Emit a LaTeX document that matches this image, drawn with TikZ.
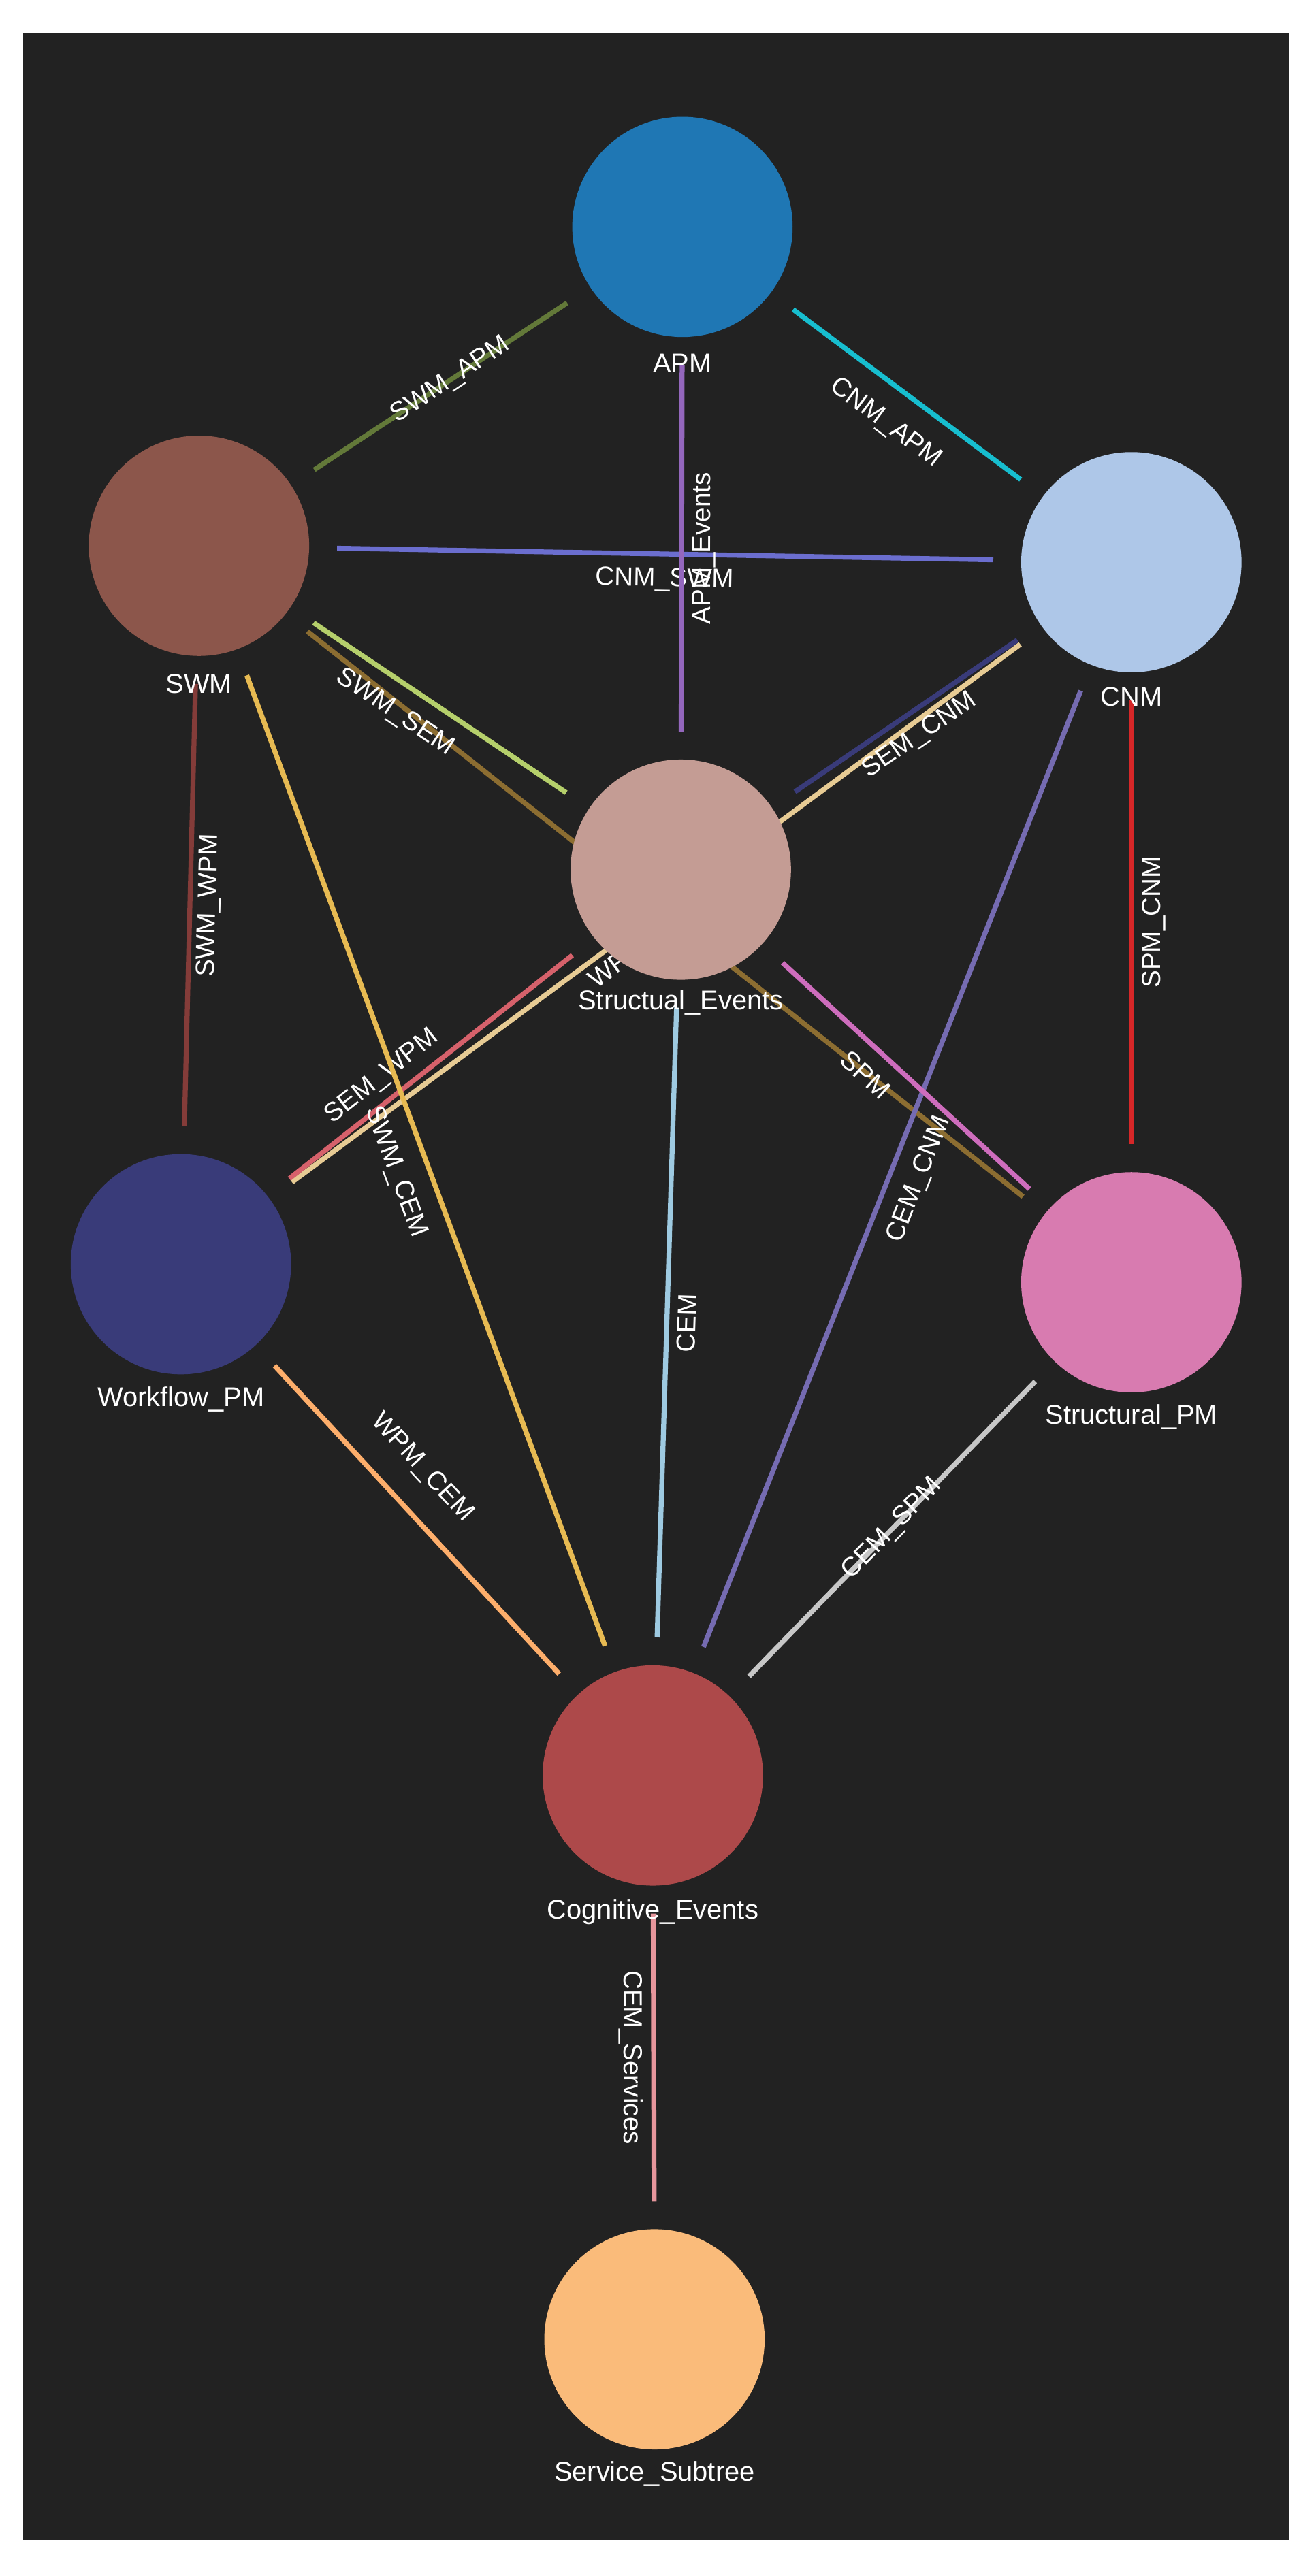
\documentclass[tikz,border=0pt]{standalone}
\usepackage{fontspec}
\setmainfont{Liberation Sans}
\begin{document}
\begin{tikzpicture}[x=1pt,y=-1pt,
  nd/.style={circle,minimum size=134pt,inner sep=0pt},
  nl/.style={text=white,font=\fontsize{16.5}{18}\selectfont},
  ed/.style={line width=3pt,shorten >=84pt,shorten <=84pt},
  el/.style={midway,sloped,allow upside down,text=white,font=\fontsize{16}{18}\selectfont,inner sep=1pt}]
\definecolor{bg}{HTML}{222222}
\useasboundingbox (0,0) rectangle (800,1567);
\fill[white] (0,0) rectangle (800,1567);
\fill[bg] (14,20) rectangle (784,1545);
% centers
\coordinate (APM) at (415,138);
\coordinate (SWM) at (121,332);
\coordinate (CNM) at (688,342);
\coordinate (SE) at (414,529);
\coordinate (WPM) at (110,769);
\coordinate (SPM) at (688,780);
\coordinate (CE) at (397,1080);
\coordinate (SS) at (398,1423);
% edges
\draw[ed,color={rgb,255:red,99;green,121;blue,57}] (SWM) -- node[el,pos=0.52]{SWM\_APM} (APM);
\draw[ed,color={rgb,255:red,23;green,190;blue,207}] (APM) -- node[el,below=12pt]{CNM\_APM} (CNM);
\draw[ed,color={rgb,255:red,107;green,110;blue,207}] (SWM) -- node[el,below=6pt]{CNM\_SWM} (CNM);
\draw[ed,color={rgb,255:red,148;green,103;blue,189}] (SE) -- node[el,below=4pt]{APM\_Events} (APM);
\draw[ed,color={rgb,255:red,140;green,109;blue,49}] (SWM) -- node[el]{SWM\_SPM} (SPM);
\draw[ed,color={rgb,255:red,181;green,207;blue,107}] (SWM) -- node[el,below=8pt,pos=0.44]{SWM\_SEM} (SE);
\draw[ed,color={rgb,255:red,57;green,59;blue,121}] (SE) -- (CNM);
\draw[ed,color={rgb,255:red,231;green,203;blue,148}] (WPM) -- node[el,below=2pt,pos=0.48]{WPM\_CNM} (CNM);
\path (SE) -- node[el,below=6pt]{SEM\_CNM} (CNM);
\draw[ed,color={rgb,255:red,214;green,97;blue,107}] (WPM) -- node[el,above=4pt,pos=0.43]{SEM\_WPM} (SE);
\draw[ed,color={rgb,255:red,132;green,60;blue,57}] (WPM) -- node[el,below=2pt]{SWM\_WPM} (SWM);
\draw[ed,color={rgb,255:red,231;green,186;blue,82}] (SWM) -- node[el,below=10pt,pos=0.5]{SWM\_CEM} (CE);
\draw[ed,color={rgb,255:red,158;green,202;blue,225}] (CE) -- node[el,below=4pt]{CEM} (SE);
\draw[ed,color={rgb,255:red,117;green,107;blue,177}] (CE) -- node[el,below=8pt]{CEM\_CNM} (CNM);
\draw[ed,color={rgb,255:red,206;green,109;blue,189}] (SE) -- node[el,below=8pt,pos=0.45]{SPM} (SPM);
\draw[ed,color={rgb,255:red,214;green,39;blue,40}] (SPM) -- node[el,below=4pt]{SPM\_CNM} (CNM);
\draw[ed,color={rgb,255:red,253;green,174;blue,107}] (WPM) -- node[el,above=14pt,pos=0.45]{WPM\_CEM} (CE);
\draw[ed,color={rgb,255:red,199;green,199;blue,199}] (CE) -- node[el,pos=0.5]{CEM\_SPM} (SPM);
\draw[ed,color={rgb,255:red,231;green,150;blue,156}] (CE) -- node[el,below=4pt]{CEM\_Services} (SS);
% nodes
\node[nd,fill={rgb,255:red,31;green,119;blue,180}] (nAPM) at (APM) {};
\node[nd,fill={rgb,255:red,140;green,86;blue,75}] (nSWM) at (SWM) {};
\node[nd,fill={rgb,255:red,174;green,199;blue,232}] (nCNM) at (CNM) {};
\node[nd,fill={rgb,255:red,196;green,156;blue,148}] (nSE) at (SE) {};
\node[nd,fill={rgb,255:red,57;green,59;blue,121}] (nWPM) at (WPM) {};
\node[nd,fill={rgb,255:red,216;green,123;blue,176}] (nSPM) at (SPM) {};
\node[nd,fill={rgb,255:red,173;green,73;blue,74}] (nCE) at (CE) {};
\node[nd,fill={rgb,255:red,250;green,187;blue,122}] (nSS) at (SS) {};
\node[nl] (tAPM) at ([yshift=-83pt]APM) {APM};
\node[nl] (tSWM) at ([yshift=-84pt]SWM) {SWM};
\node[nl] (tCNM) at ([yshift=-82pt]CNM) {CNM};
\node[nl] (tSE) at ([yshift=-81pt]SE) {Structual\_Events};
\node[nl] (tWPM) at ([yshift=-82pt]WPM) {Workflow\_PM};
\node[nl] (tSPM) at ([yshift=-82pt]SPM) {Structural\_PM};
\node[nl] (tCE) at ([yshift=-83pt]CE) {Cognitive\_Events};
\node[nl] (tSS) at ([yshift=-82pt]SS) {Service\_Subtree};
\end{tikzpicture}
\end{document}
